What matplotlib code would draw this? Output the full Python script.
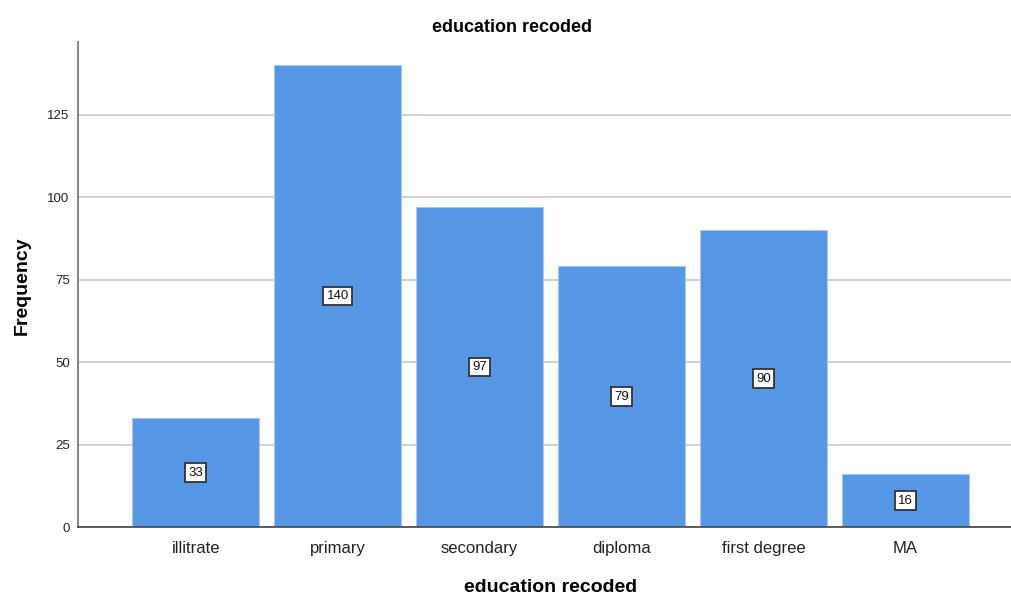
import numpy as np
import matplotlib.pyplot as plt

categories = ['illitrate', 'primary', 'secondary', 'diploma', 'first degree', 'MA']
counts = [33, 140, 97, 79, 90, 16]
yticks = [0, 25, 50, 75, 100, 125]

plt.rcParams['font.family'] = ['Liberation Sans', 'DejaVu Sans']

fig = plt.figure(figsize=(10.12, 5.95), dpi=100)
ax = fig.add_axes([78 / 1012, 68 / 595, 1 - 78 / 1012, (527 - 42) / 595])

x = np.arange(len(categories))
bars = ax.bar(x, counts, width=0.894, color='#5596E5', edgecolor='#a9c8f0',
              linewidth=0.8, zorder=2)

for xi, c in zip(x, counts):
    ax.text(xi, c / 2, str(c), ha='center', va='center', fontsize=9.5, zorder=3,
            color='#111111',
            bbox=dict(boxstyle='square,pad=0.25', fc='white', ec='#333333', lw=1.3))

ax.set_xlim(-0.83, 5.75)
ax.set_ylim(0, 147)
ax.set_yticks(yticks)
ax.set_xticks(x)
ax.set_xticklabels(categories, fontsize=12, color='#222222')
ax.tick_params(axis='y', labelsize=9.5, length=0, pad=6, labelcolor='#222222')
ax.tick_params(axis='x', length=0, pad=10)
ax.yaxis.grid(True, color='#c8c8c8', linewidth=1.2, zorder=0)
ax.set_axisbelow(True)

for s in ['top', 'right']:
    ax.spines[s].set_visible(False)
ax.spines['left'].set_color('#888888')
ax.spines['left'].set_linewidth(1.5)
ax.spines['bottom'].set_color('#444444')
ax.spines['bottom'].set_linewidth(1.2)

fig.text(512 / 1012, 1 - 27 / 595, 'education recoded', fontsize=13,
         fontweight='bold', ha='center', va='center')
ax.set_xlabel('education recoded', fontsize=14, fontweight='bold')
ax.xaxis.set_label_coords((551 - 78) / (1012 - 78), -(587 - 527) / 485)
ax.xaxis.label.set_va('center')
ax.set_ylabel('Frequency', fontsize=14, fontweight='bold')
ax.yaxis.set_label_coords(-(78 - 22) / (1012 - 78), (527 - 286) / 485)
ax.yaxis.label.set_va('center')

fig.savefig('out.png', dpi=100)
